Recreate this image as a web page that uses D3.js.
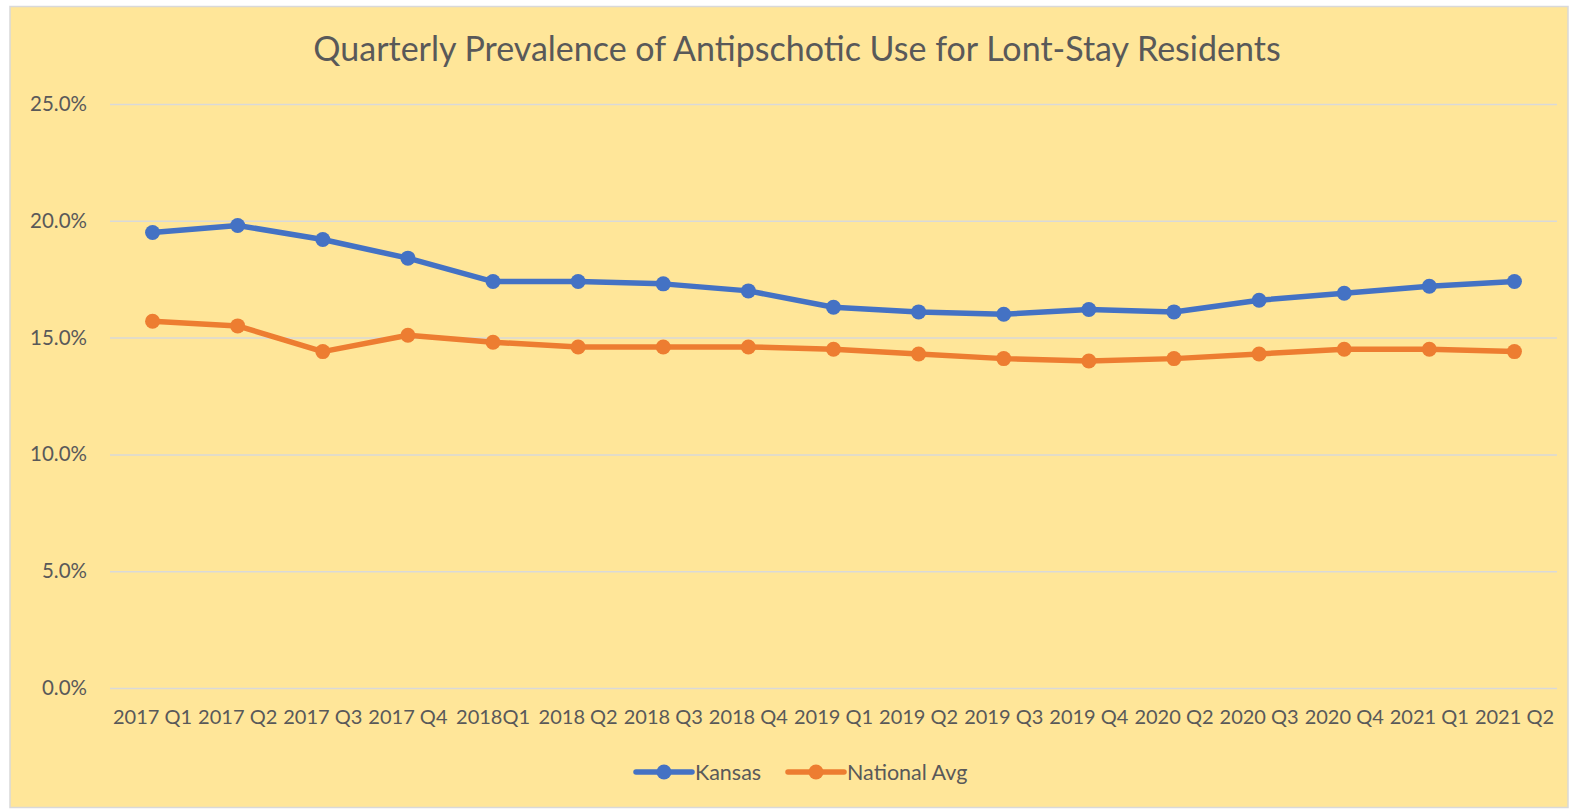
<!DOCTYPE html>
<html><head><meta charset="utf-8">
<script src="https://cdn.jsdelivr.net/npm/d3@7/dist/d3.min.js"></script>
<style>html,body{margin:0;padding:0;background:#fff;}svg{display:block;}</style>
</head><body>
<script>
const categories = ["2017 Q1","2017 Q2","2017 Q3","2017 Q4","2018Q1","2018 Q2","2018 Q3","2018 Q4","2019 Q1","2019 Q2","2019 Q3","2019 Q4","2020 Q2","2020 Q3","2020 Q4","2021 Q1","2021 Q2"];
const kansas = [19.5,19.8,19.2,18.4,17.4,17.4,17.3,17.0,16.3,16.1,16.0,16.2,16.1,16.6,16.9,17.2,17.4];
const national = [15.7,15.5,14.4,15.1,14.8,14.6,14.6,14.6,14.5,14.3,14.1,14.0,14.1,14.3,14.5,14.5,14.4];
const yTicks = [0,5,10,15,20,25];
const seriesNames = ["Kansas","National Avg"];
const colors = ["#4472C4","#ED7D31"];

const W = 1571, H = 809;
const font = "Lato, 'Open Sans', sans-serif";
const svg = d3.select("body").append("svg").attr("width", W).attr("height", H);
svg.append("rect").attr("x",10).attr("y",6.5).attr("width",W-13).attr("height",H-8)
  .attr("fill","#FFE699").attr("stroke","#D9D9D9").attr("stroke-width",1.5);

const m = {left:110, right:1557, top:104, bottom:688};
const x = d3.scaleBand().domain(categories).range([m.left, m.right]);
const y = d3.scaleLinear().domain([0,25]).range([m.bottom, m.top]);

svg.append("text").attr("x", 797).attr("y", 61).attr("text-anchor","middle")
  .attr("font-family", font).attr("font-size", 34).attr("fill","#595959")
  .text("Quarterly Prevalence of Antipschotic Use for Lont-Stay Residents");

const yAxis = svg.append("g").attr("transform",`translate(${m.left},0)`)
  .call(d3.axisLeft(y).tickValues(yTicks).tickSize(-(m.right-m.left)).tickPadding(23).tickFormat(d=>d.toFixed(1)+"%"));
yAxis.select(".domain").remove();
yAxis.selectAll("line").attr("stroke","#D9D9D9").attr("stroke-width",1.5);
yAxis.selectAll("text").attr("font-family",font).attr("font-size",20.5).attr("fill","#595959");

const xAxis = svg.append("g").attr("transform",`translate(0,${m.bottom})`)
  .call(d3.axisBottom(x).tickSize(0).tickPadding(22));
xAxis.select(".domain").remove();
xAxis.selectAll("text").attr("font-family",font).attr("font-size",20).attr("fill","#595959");

const cx = d => x(d) + x.bandwidth()/2;
[kansas, national].forEach((vals, i) => {
  const pts = categories.map((c,j)=>[cx(c), y(vals[j])]);
  svg.append("path").attr("d", d3.line()(pts)).attr("fill","none")
    .attr("stroke", colors[i]).attr("stroke-width",5.5).attr("stroke-linejoin","round");
  svg.selectAll(null).data(pts).enter().append("circle")
    .attr("cx",d=>d[0]).attr("cy",d=>d[1]).attr("r",7.5).attr("fill",colors[i]);
});

const legX = [636, 788];
seriesNames.forEach((n,i)=>{
  const g = svg.append("g").attr("transform",`translate(${legX[i]},772)`);
  g.append("line").attr("x1",0).attr("x2",56).attr("stroke",colors[i]).attr("stroke-width",5.5).attr("stroke-linecap","round");
  g.append("circle").attr("cx",28).attr("r",7.5).attr("fill",colors[i]);
  g.append("text").attr("x",59).attr("dy","0.35em").attr("font-family",font).attr("font-size",21.5).attr("fill","#595959").text(n);
});
</script>
</body></html>
